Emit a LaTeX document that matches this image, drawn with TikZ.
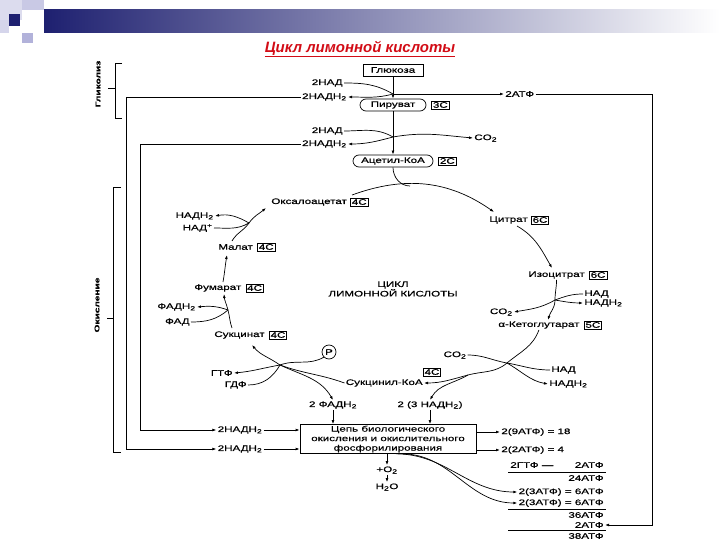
\documentclass[tikz,border=0pt]{standalone}
\usepackage{fontspec}
\setmainfont{Liberation Sans}
\newfontfamily\scanfont[FakeStretch=1.45,FakeBold=0.6]{Liberation Sans}
\usepackage{tikz}
\usetikzlibrary{arrows.meta,positioning}
\definecolor{slidenavy}{RGB}{30,32,112}
\definecolor{slidelav}{RGB}{178,178,218}
\definecolor{titlered}{RGB}{210,12,22}

\begin{document}
\begin{tikzpicture}[
    x=1pt, y=1pt,
    >={Latex[length=4pt,width=2.8pt]},
    line width=0.7pt,
    lbl/.style={font=\scanfont\fontsize{8}{9.5}\selectfont, inner sep=1pt},
    cbox/.style={lbl, draw, line width=0.6pt, inner sep=1.3pt},
    oval/.style={lbl, draw, rounded corners=6pt, minimum height=12pt},
    sidelbl/.style={font=\scanfont\bfseries\fontsize{7}{8}\selectfont, rotate=90, inner sep=1pt},
    underln/.style={line width=0.6pt}
]
\useasboundingbox (0,0) rectangle (720,-540);

% slide header
\fill[slidelav!45] (0,0) rectangle (22,-20);
\fill[slidelav!70] (22,0) rectangle (44,-10);
\fill[slidelav!55] (0,-20) rectangle (9,-33);
\fill[slidelav] (22,-33) rectangle (33,-43);
\shade[left color=slidenavy, right color=white] (44,-10) rectangle (720,-33);
\fill[slidenavy] (9,-14) rectangle (20,-26);
\node[font=\fontsize{15}{17}\selectfont\bfseries\itshape, text=titlered] (title) at (360,-49) {\underline{Цикл лимонной кислоты}};

% glycolysis
\node[lbl, draw, minimum width=60pt, minimum height=12pt] (gluc) at (393,-70) {Глюкоза};
\node[lbl, anchor=east] (nadA) at (344,-83) {2НАД};
\node[lbl, anchor=east] (nadhA) at (348,-97) {2НАДН\textsubscript{2}};
\coordinate (jA) at (393,-94);
\node[lbl, anchor=west] (atpA) at (504,-94) {2АТФ};
\node[oval, minimum width=66pt] (pyr) at (393,-105) {Пируват};
\node[cbox, right=5pt of pyr] (cA) {3С};
\node[lbl, anchor=east] (nadB) at (344,-131) {2НАД};
\node[lbl, anchor=east] (nadhB) at (348,-144) {2НАДН\textsubscript{2}};
\coordinate (jB) at (393,-137);
\node[lbl, anchor=west] (co2A) at (473,-138) {CO\textsubscript{2}};
\node[oval, minimum width=80pt] (acoa) at (393,-161) {Ацетил-КоА};
\node[cbox, right=5pt of acoa] (cB) {2С};

\draw[->] (gluc.south) -- (pyr.north);
\draw[->] (pyr.south) -- (acoa.north);
\draw (nadA.east) to[out=0,in=150] (jA);
\draw[->] (jA) to[out=195,in=0] (nadhA.east);
\draw[->] (jA) -- (atpA.west);
\draw (nadB.east) to[out=0,in=150] (jB);
\draw[->] (jB) to[out=195,in=0] (nadhB.east);
\draw[->] (jB) to[out=10,in=175] (co2A.west);

% citric acid cycle
\node[lbl, anchor=west] (oxa) at (270,-202) {Оксалоацетат};
\node[cbox, right=2pt of oxa] (cOxa) {4С};
\node[lbl, anchor=west] (cit) at (488,-220) {Цитрат};
\node[cbox, right=2pt of cit] (cCit) {6С};
\node[lbl, anchor=west] (iso) at (527,-275) {Изоцитрат};
\node[cbox, right=3pt of iso] (cIso) {6С};
\node[lbl, anchor=west] (nadI) at (583,-294) {НАД};
\node[lbl, anchor=west] (nadhI) at (583,-303) {НАДН\textsubscript{2}};
\node[lbl, anchor=east] (co2B) at (514,-312) {CO\textsubscript{2}};
\node[lbl, anchor=west] (akg) at (497,-325) {α-Кетоглутарат};
\node[cbox, right=3pt of akg] (cAkg) {5С};
\node[lbl] (co2C) at (455,-355) {CO\textsubscript{2}};
\node[lbl, anchor=west] (nadK) at (550,-370) {НАД};
\node[lbl, anchor=west] (nadhK) at (548,-384) {НАДН\textsubscript{2}};
\node[cbox] (cScoa) at (432,-372) {4С};
\node[lbl, anchor=east] (scoa) at (424,-383) {Сукцинил-КоА};
\node[lbl, anchor=west] (suc) at (213,-335) {Сукцинат};
\node[cbox, right=3pt of suc] (cSuc) {4С};
\node[lbl, anchor=west] (fum) at (193,-288) {Фумарат};
\node[cbox, right=3pt of fum] (cFum) {4С};
\node[lbl, anchor=east] (fadh) at (197,-307) {ФАДН\textsubscript{2}};
\node[lbl, anchor=east] (fad) at (191,-322) {ФАД};
\node[lbl, anchor=west] (mal) at (217,-247) {Малат};
\node[cbox, right=3pt of mal] (cMal) {4С};
\node[lbl, anchor=east] (nadhM) at (215,-216) {НАДН\textsubscript{2}};
\node[lbl, anchor=east] (nadM) at (214,-228) {НАД\textsuperscript{+}};
\node[lbl, align=center] (cyc) at (393,-289) {ЦИКЛ\\ЛИМОННОЙ КИСЛОТЫ};
\node[lbl, draw, circle, minimum size=14pt, inner sep=0pt] (pho) at (329,-352) {P};
\node[lbl, anchor=east] (gtp) at (234,-373) {ГТФ};
\node[lbl, anchor=east] (gdp) at (248,-385) {ГДФ};

\coordinate (oxaOut) at (352,-195);
\coordinate (citIn) at (494,-212);
\coordinate (joinAc) at (410,-186);
\coordinate (citOut) at (517,-226);
\coordinate (isoIn) at (552,-268);
\coordinate (jI) at (555,-300);
\coordinate (akgIn) at (548,-320);
\coordinate (jK) at (507,-363);
\coordinate (jK2) at (468,-375);
\coordinate (jS) at (280,-365);
\coordinate (sucIn) at (252,-345);
\coordinate (sucOut) at (232,-328);
\coordinate (jF) at (228,-310);
\coordinate (fumIn) at (224,-294);
\coordinate (fumOut) at (223,-282);
\coordinate (malIn) at (227,-255);
\coordinate (malOut) at (232,-241);
\coordinate (jM) at (249,-223);
\coordinate (oxaIn) at (266,-208);

\draw[->] (oxaOut) to[out=20,in=145] (citIn);
\draw (acoa.south) to[out=-90,in=180] (joinAc);
\draw[->] (citOut) to[out=-30,in=120] (isoIn);
\draw (iso.south) to[out=-90,in=90] (jI);
\draw[->] (jI) to[out=-90,in=75] (akgIn);
\draw (nadI.west) to[out=180,in=20] (jI);
\draw[->] (jI) to[out=-10,in=180] (nadhI.west);
\draw[->] (jI) to[out=-150,in=10] (co2B.east);
\draw (akg.south) to[out=-110,in=40] (jK);
\draw (jK) to[out=-140,in=15] (jK2);
\draw[->] (jK2) to[out=-165,in=0] (scoa.east);
\draw (co2C.east) to[out=0,in=170] (jK);
\draw (jK) to[out=-10,in=180] (nadK.west);
\draw[->] (jK) to[out=-30,in=170] (nadhK.west);
\draw (scoa.west) to[out=160,in=-20] (jS);
\draw[->] (jS) to[out=145,in=-50] (sucIn);
\draw (jS) to[out=20,in=-150] (pho.south west);
\draw[->] (jS) to[out=190,in=5] (gtp.east);
\draw (gdp.east) to[out=0,in=-120] (jS);
\draw (sucOut) to[out=110,in=-75] (jF);
\draw[->] (jF) to[out=105,in=-85] (fumIn);
\draw (fad.east) to[out=0,in=-140] (jF);
\draw[->] (jF) to[out=160,in=5] (fadh.east);
\draw[->] (fumOut) to[out=80,in=-100] (malIn);
\draw (malOut) to[out=60,in=-125] (jM);
\draw[->] (jM) to[out=55,in=-140] (oxaIn);
\draw (nadM.east) to[out=0,in=-150] (jM);
\draw[->] (jM) to[out=150,in=10] (nadhM.east);

% respiratory chain
\node[lbl] (fadhX) at (333,-405) {2 ФАДН\textsubscript{2}};
\node[lbl] (nadhX) at (430,-405) {2 (3 НАДН\textsubscript{2})};
\node[lbl, draw, align=center, minimum width=176pt, minimum height=29pt] (chain) at (388,-439) {Цепь биологического\\окисления и окислительного\\фосфорилирования};
\node[lbl] (nadhL) at (240,-430) {2НАДН\textsubscript{2}};
\node[lbl] (nadhLL) at (240,-449) {2НАДН\textsubscript{2}};
\node[lbl] (oxy) at (387,-470) {+O\textsubscript{2}};
\node[lbl] (water) at (387,-487) {H\textsubscript{2}O};

\draw[->] (jS) to[out=-25,in=120] (fadhX.north);
\draw[->] (jK2) to[out=-150,in=60] (nadhX.north);
\draw[->] (fadhX.south) -- (fadhX.south |- chain.north);
\draw[->] (nadhX.south) -- (nadhX.south |- chain.north);
\draw[->] (nadhA.west) -| (126,-449) -- (nadhLL.west);
\draw[->] (nadhB.west) -| (140,-430) -- (nadhL.west);
\draw[->] (nadhL.east) -- (nadhL.east -| chain.west);
\draw[->] (nadhLL.east) -- (nadhLL.east -| chain.west);
\draw[->] (chain.south -| oxy) -- (oxy.north);
\draw[->] (oxy.south) -- (water.north);

% ATP balance
\node[lbl, anchor=west] (sumA) at (500,-432) {2(9АТФ) = 18};
\node[lbl, anchor=west] (sumB) at (500,-450) {2(2АТФ) = 4};
\node[lbl, anchor=west] (sumC) at (509,-465) {2ГТФ —};
\node[lbl, anchor=east] (sumD) at (605,-465) {2АТФ};
\node[lbl, anchor=east] (sumE) at (605,-478) {24АТФ};
\node[lbl, anchor=east] (sumF) at (605,-492) {2(3АТФ) = 6АТФ};
\node[lbl, anchor=east] (sumG) at (605,-503) {2(3АТФ) = 6АТФ};
\node[lbl, anchor=east] (sumH) at (605,-515) {36АТФ};
\node[lbl, anchor=east] (sumI) at (605,-525) {2АТФ};
\node[lbl, anchor=east] (sumJ) at (605,-536) {38АТФ};

\draw[->] (chain.east |- sumA) -- (sumA.west);
\draw[->] (chain.east |- sumB) -- (sumB.west);
\draw[->] ([xshift=8pt]chain.south) to[out=0,in=180] (sumF.west);
\draw[->] ([xshift=14pt]chain.south) to[out=0,in=180] (sumG.west);
\draw[underln] (508,-472) -- (606,-472);
\draw[underln] (508,-509) -- (606,-509);
\draw[underln] (508,-530) -- (606,-530);
\draw[->] (atpA.east) -- (652,-94) -- (652,-525) -- (sumI.east);

% brackets
\draw (122,-63) -- (115,-63) -- (115,-118) -- (122,-118);
\draw (115,-88) -- (108,-88);
\node[sidelbl] (glyc) at (98,-84) {Гликолиз};
\draw (121,-187) -- (113,-187) -- (113,-452) -- (121,-452);
\draw (113,-318) -- (107,-318);
\node[sidelbl] (oxid) at (97,-305) {Окисление};
\end{tikzpicture}
\end{document}
